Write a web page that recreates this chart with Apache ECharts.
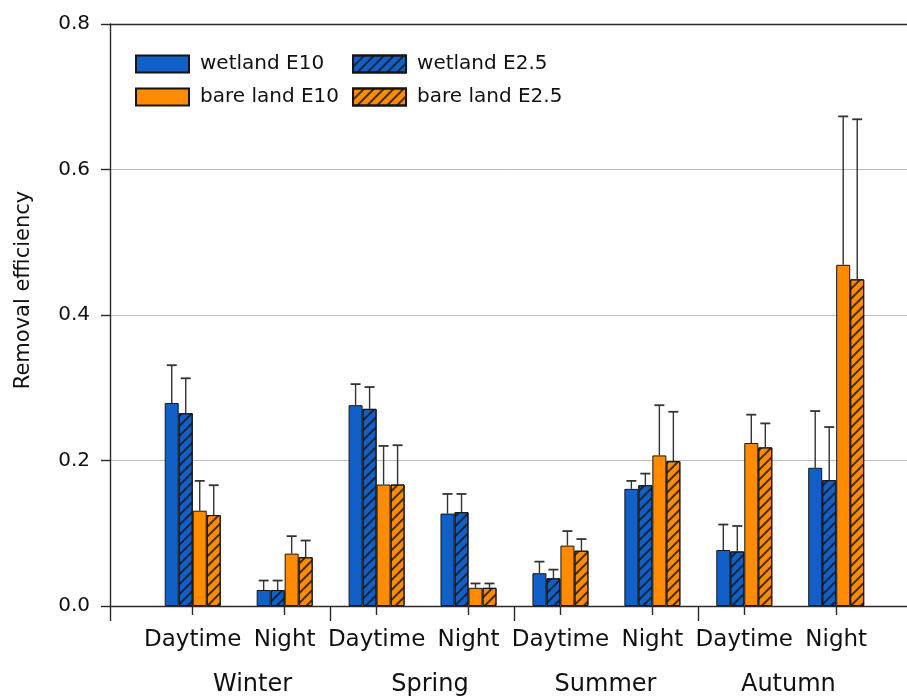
<!DOCTYPE html>
<html>
<head>
<meta charset="utf-8">
<script src="https://cdn.jsdelivr.net/npm/echarts@6/dist/echarts.min.js"></script>
<style>
  html, body { margin: 0; padding: 0; background: #fff; }
  #main { width: 907px; height: 697px; }
</style>
</head>
<body>
<div id="main"></div>
<script>
// categories
const periods = ['Daytime', 'Night', 'Daytime', 'Night', 'Daytime', 'Night', 'Daytime', 'Night'];
const seasons = ['Winter', 'Spring', 'Summer', 'Autumn'];
const yTicks = [0, 0.2, 0.4, 0.6, 0.8];

// mean removal efficiency, one value per period
const wetlandE10 = [0.279, 0.022, 0.276, 0.127, 0.045, 0.161, 0.077, 0.190];
const wetlandE25 = [0.265, 0.022, 0.271, 0.129, 0.038, 0.166, 0.075, 0.173];
const bareE10 = [0.131, 0.072, 0.167, 0.025, 0.083, 0.207, 0.224, 0.469];
const bareE25 = [0.125, 0.067, 0.167, 0.025, 0.076, 0.199, 0.218, 0.449];

// upper error (sd)
const wetlandE10Err = [0.052, 0.013, 0.029, 0.027, 0.016, 0.011, 0.035, 0.078];
const wetlandE25Err = [0.048, 0.013, 0.030, 0.025, 0.012, 0.016, 0.035, 0.073];
const bareE10Err = [0.041, 0.024, 0.053, 0.006, 0.020, 0.069, 0.039, 0.204];
const bareE25Err = [0.041, 0.023, 0.054, 0.006, 0.016, 0.068, 0.033, 0.220];

const FONT = 'DejaVu Sans';
const TXT = '#111';
const AX = '#2a2a2a';
const BLUE = '#1060c8';
const ORANGE = '#ff8c00';
const X_MIN = 0.1, X_MAX = 8.77;

const hatch = {
  symbol: 'rect',
  symbolSize: 1,
  color: 'rgba(20,20,20,0.8)',
  dashArrayX: [1, 0],
  dashArrayY: [1.2, 4.2],
  rotation: -Math.PI / 4
};

function pairs(vals) {
  return vals.map((v, i) => [i + 1, v]);
}
function errPairs(vals, errs) {
  return vals.map((v, i) => [i + 1, v, v + errs[i]]);
}

function barSeries(name, vals, color, hatched) {
  let itemStyle = { color: color, borderColor: '#151515', borderWidth: 1 };
  if (hatched) {
    itemStyle.decal = hatch;
  }
  return {
    name: name,
    type: 'bar',
    barWidth: 14,
    barGap: '0%',
    data: pairs(vals),
    itemStyle: itemStyle,
    emphasis: { disabled: true },
    z: 2
  };
}

function errSeries(name, vals, errs, offset) {
  return {
    name: name,
    type: 'custom',
    data: errPairs(vals, errs),
    z: 3,
    renderItem: function (params, api) {
      const p0 = api.coord([api.value(0), api.value(1)]);
      const p1 = api.coord([api.value(0), api.value(2)]);
      const x = p0[0] + offset;
      return {
        type: 'group',
        children: [
          { type: 'line', shape: { x1: x, y1: p0[1], x2: x, y2: p1[1] },
            style: { stroke: '#333', lineWidth: 1.4 } },
          { type: 'line', shape: { x1: x - 5, y1: p1[1], x2: x + 5, y2: p1[1] },
            style: { stroke: '#333', lineWidth: 1.8 } }
        ]
      };
    }
  };
}

const chart = echarts.init(document.getElementById('main'));
chart.setOption({
  animation: false,
  backgroundColor: '#fff',
  textStyle: { fontFamily: FONT },
  grid: { left: 110, right: 0, top: 24, bottom: 91 },
  legend: {
    orient: 'vertical',
    left: 130,
    top: 49,
    height: 70,
    itemGap: 13,
    itemWidth: 53,
    itemHeight: 17,
    icon: 'rect',
    selectedMode: false,
    textStyle: { fontFamily: FONT, fontSize: 20, color: TXT, padding: [0, 0, 0, 6] },
    data: ['wetland E10', 'bare land E10', 'wetland E2.5', 'bare land E2.5']
  },
  xAxis: [
    {
      type: 'value',
      min: X_MIN,
      max: X_MAX,
      position: 'bottom',
      splitLine: { show: false },
      axisLine: { show: true, lineStyle: { color: AX, width: 1.4 } },
      axisTick: { show: true, length: 9, customValues: [1, 2, 3, 4, 5, 6, 7, 8],
                  lineStyle: { color: AX, width: 1.4 } },
      axisLabel: {
        customValues: [1, 2, 3, 4, 5, 6, 7, 8],
        formatter: (v) => periods[Math.round(v) - 1],
        fontFamily: FONT, fontSize: 23, color: TXT, margin: 23
      }
    },
    {
      type: 'value',
      min: X_MIN,
      max: X_MAX,
      position: 'bottom',
      splitLine: { show: false },
      axisLine: { show: false },
      axisTick: { show: true, length: 15, customValues: [X_MIN, 2.5, 4.5, 6.5],
                  lineStyle: { color: AX, width: 1.4 } },
      axisLabel: {
        customValues: [1.65, 3.58, 5.49, 7.48],
        formatter: (v) => seasons[Math.floor((v - 0.5) / 2)],
        fontFamily: FONT, fontSize: 24, color: TXT, margin: 67
      }
    },
    {
      type: 'value',
      min: X_MIN,
      max: X_MAX,
      position: 'top',
      splitLine: { show: false },
      axisLine: { show: true, lineStyle: { color: AX, width: 1.4 } },
      axisTick: { show: false },
      axisLabel: { show: false }
    }
  ],
  yAxis: {
    type: 'value',
    min: 0,
    max: 0.8,
    interval: 0.2,
    name: 'Removal efficiency',
    nameLocation: 'middle',
    nameGap: 76,
    nameTextStyle: { fontFamily: FONT, fontSize: 21, color: TXT, padding: [0, 0, 0, 50] },
    axisLine: { show: true, lineStyle: { color: AX, width: 1.4 } },
    axisTick: { show: true, inside: false, length: 9, lineStyle: { color: AX, width: 1.4 } },
    axisLabel: {
      fontFamily: FONT, fontSize: 20, color: TXT, margin: 20,
      formatter: (v) => (yTicks.indexOf(+v.toFixed(1)) >= 0 ? v.toFixed(1) : '')
    },
    splitLine: { show: true, lineStyle: { color: '#bdbdbd', width: 1 } }
  },
  series: [
    barSeries('wetland E10', wetlandE10, BLUE, false),
    barSeries('wetland E2.5', wetlandE25, BLUE, true),
    barSeries('bare land E10', bareE10, ORANGE, false),
    barSeries('bare land E2.5', bareE25, ORANGE, true),
    errSeries('err wetland E10', wetlandE10, wetlandE10Err, -21),
    errSeries('err wetland E2.5', wetlandE25, wetlandE25Err, -7),
    errSeries('err bare land E10', bareE10, bareE10Err, 7),
    errSeries('err bare land E2.5', bareE25, bareE25Err, 21)
  ]
});
</script>
</body>
</html>
